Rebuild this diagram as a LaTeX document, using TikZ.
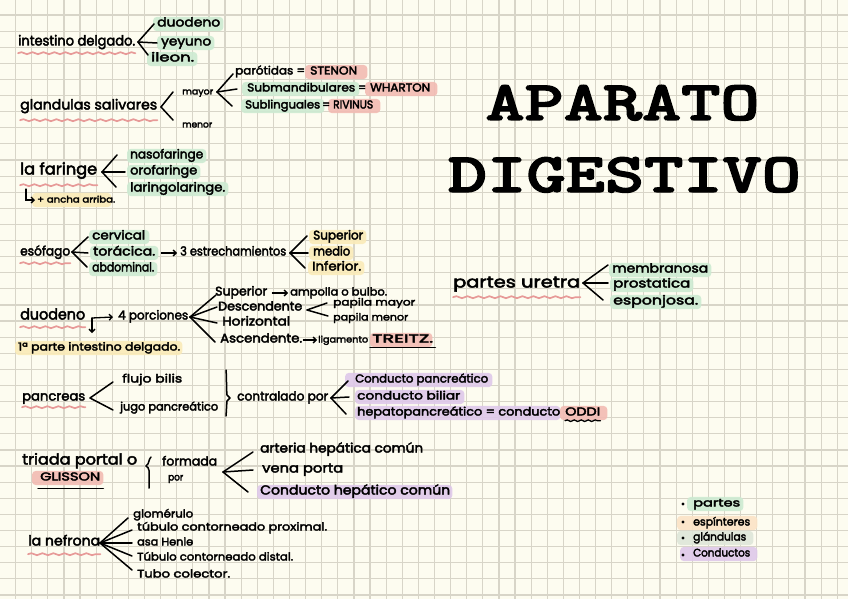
\documentclass[tikz,border=0pt]{standalone}
\usepackage{fontspec}
\usepackage{graphicx}
\newfontfamily\hand{Poppins}[FakeBold=3]
\newfontfamily\titlef{lmmonolt10-bold.otf}[FakeBold=2.2]
\usetikzlibrary{arrows.meta,decorations.pathmorphing,calc}
\definecolor{bgc}{HTML}{FDFCF0}
\definecolor{gridc}{HTML}{D8D5C8}
\definecolor{hlg}{HTML}{CDEBD2}
\definecolor{hly}{HTML}{FAEBB8}
\definecolor{hlr}{HTML}{F2BBB3}
\definecolor{hlp}{HTML}{DEC8EA}
\definecolor{hlo}{HTML}{FBE3C6}
\definecolor{hlgg}{HTML}{DFE6D9}
\definecolor{ulred}{HTML}{E79A98}
\pgfdeclarelayer{bg}
\pgfsetlayers{bg,main}
\newlength\fitlen
\newcommand\fit[2]{\settowidth\fitlen{#2}\pgfmathsetmacro\fitsc{#1/\fitlen}\scalebox{\fitsc}[1]{#2}}
\newcommand\hlt[4]{\fill[#2, rounded corners=4pt, opacity=0.9] ([xshift=-#3pt,yshift=-2pt]#1.south west) rectangle ([xshift=#4pt,yshift=2pt]#1.north east);}
\newcommand\wav[2]{\draw[wavy] ([yshift=-#2pt]#1.south west) -- ([yshift=-#2pt]#1.south east);}
\tikzset{
  t/.style={anchor=west, inner sep=0pt, text height=7.5pt, text depth=2.5pt, font=\hand\fontsize{12.5}{14}\selectfont},
  fs/.style={font=\hand\fontsize{#1}{#1}\selectfont},
  arm/.style={line width=1.5pt, line cap=round, line join=round},
  arr/.style={line width=1.3pt, line cap=round, -{Straight Barb[length=3pt,width=6pt]}},
  wavy/.style={draw=ulred, line width=1.7pt, line cap=round, decorate, decoration={snake, segment length=11pt, amplitude=1pt}},
  bwavy/.style={draw=black, line width=1.3pt, line cap=round, decorate, decoration={snake, segment length=7pt, amplitude=0.8pt}},
  title/.style={inner sep=0pt, anchor=base, font=\titlef\fontsize{56}{56}\selectfont},
  dot/.style={circle, fill=black, inner sep=1.2pt}
}
\begin{document}
\begin{tikzpicture}[x=1pt,y=-1pt]
\useasboundingbox (0,0) rectangle (848,599);
\begin{pgfonlayer}{bg}
\fill[bgc] (0,0) rectangle (848,599);
\foreach \i in {0,...,51} \draw[gridc, line width=1.2pt] ({15.6+16.11*\i},0) -- ++(0,599);
\foreach \j in {0,...,36} \draw[gridc, line width=1.2pt] (0,{15+16.11*\j}) -- ++(848,0);
\end{pgfonlayer}

% title
\node[title] (tA) at (622.5,120) {\fit{274}{APARATO}};
\node[title] (tD) at (624.5,192) {\fit{353}{DIGESTIVO}};

% intestino delgado
\node[t,fs=14] (id) at (18,43) {\fit{117}{intestino delgado.}};
\node[t] (id1) at (157,24) {\fit{63}{duodeno}};
\node[t] (id2) at (161,43) {\fit{50}{yeyuno}};
\node[t] (id3) at (151,59) {\fit{43}{ileon.}};
\coordinate (idA) at (138,42);
\draw[arm] (idA) -- ([xshift=-3pt]id1.west);
\draw[arm] (idA) -- ([xshift=-4pt]id2.west);
\draw[arm] (idA) -- ([xshift=-3pt,yshift=4pt]id3.west);

% glandulas salivares
\node[t,fs=14] (gs) at (20,107) {\fit{137}{glandulas salivares}};
\coordinate (gsA) at (161,107);
\node[t,fs=9] (gma) at (182,92) {\fit{31}{mayor}};
\node[t,fs=9] (gme) at (182,125) {\fit{30}{menor}};
\draw[arm] (gsA) -- ([xshift=-9pt]gma.west);
\draw[arm] (gsA) -- ([xshift=-9pt,yshift=5pt]gme.west);
\coordinate (gmaA) at (217,92);
\node[t,fs=11.5] (par) at (235,72) {\fit{70}{parótidas =}};
\node[t,fs=11.5] (sten) at (310,72) {\fit{47}{STENON}};
\node[t,fs=11.5] (sub) at (247,89) {\fit{108}{Submandibulares}};
\node[t,fs=11.5] (eq1) at (358,89) {\fit{8}{=}};
\node[t,fs=11.5] (whar) at (370,89) {\fit{60}{WHARTON}};
\node[t,fs=11.5] (subl) at (245,106) {\fit{75}{Sublinguales}};
\node[t,fs=11.5] (eq2) at (322,106) {\fit{8}{=}};
\node[t,fs=11.5] (riv) at (333,106) {\fit{40}{RIVINUS}};
\draw[arm] (gmaA) -- ([xshift=-2pt,yshift=-2pt]par.west);
\draw[arm] (gmaA) -- ([xshift=-10pt]sub.west);
\draw[arm] (gmaA) -- ([xshift=-13pt]subl.west);

% la faringe
\node[t,fs=16] (fa) at (20,172) {\fit{77}{la faringe}};
\coordinate (faA) at (102,172);
\node[t] (fa1) at (130,156) {\fit{73}{nasofaringe}};
\node[t] (fa2) at (130,172) {\fit{67}{orofaringe}};
\node[t] (fa3) at (130,189) {\fit{95}{laringolaringe.}};
\draw[arm] (faA) -- ([xshift=-13pt,yshift=1pt]fa1.west);
\draw[arm] (faA) -- ([xshift=-5pt]fa2.west);
\draw[arm] (faA) -- ([xshift=-14pt,yshift=2pt]fa3.west);
\node[t,fs=9] (fan) at (37,200) {\fit{78}{+ ancha arriba.}};
\coordinate (faL) at (26,189);
\draw[arr] (faL) |- ([xshift=-2pt]fan.west);

% esofago
\node[t,fs=13] (es) at (20,253) {\fit{50}{esófago}};
\coordinate (esA) at (72,252);
\node[t] (es1) at (92,237) {\fit{53}{cervical}};
\node[t] (es2) at (93,253) {\fit{62}{torácica.}};
\node[t] (es3) at (92,269) {\fit{62}{abdominal.}};
\draw[arm] (esA) -- ([xshift=-4pt]es1.west);
\draw[arm] (esA) -- ([xshift=-5pt]es2.west);
\draw[arm] (esA) -- ([xshift=-5pt,yshift=2pt]es3.west);
\node[t] (es4) at (180,253) {\fit{106}{3 estrechamientos}};
\draw[arr] ([xshift=6pt]es2.east) -- ([xshift=-3pt]es4.west);
\coordinate (esB) at (290,253);
\node[t] (es5) at (313,237) {\fit{50}{Superior}};
\node[t] (es6) at (313,253) {\fit{37}{medio}};
\node[t] (es7) at (312,268) {\fit{49}{Inferior.}};
\draw[arm] (esB) -- ([xshift=-6pt,yshift=1pt]es5.west);
\draw[arm] (esB) -- ([xshift=-5pt]es6.west);
\draw[arm] (esB) -- ([xshift=-7pt]es7.west);

% duodeno
\node[t,fs=15] (du) at (20,317) {\fit{65}{duodeno}};
\coordinate (duC) at (92,318);
\coordinate (duD) at (92,333);
\node[t] (du1) at (118,317) {\fit{70}{4 porciones}};
\node[t,fs=11] (du2) at (18,348) {\fit{162}{1ª parte intestino delgado.}};
\draw[arr] (duC) -- ([xshift=-5pt]du1.west);
\draw[arr] (duC) -- (duD);
\coordinate (duA) at (190,317);
\node[t] (du3) at (215,293) {\fit{52}{Superior}};
\node[t,fs=11] (du4) at (290,293) {\fit{97}{ampolla o bulbo.}};
\draw[arr] ([xshift=5pt]du3.east) -- ([xshift=-2pt]du4.west);
\node[t] (du5) at (218,308) {\fit{84}{Descendente}};
\coordinate (du5A) at (307,310);
\node[t,fs=10] (du6) at (333,303) {\fit{82}{papila mayor}};
\node[t,fs=10] (du7) at (333,318) {\fit{75}{papila menor}};
\draw[arm] (du5A) -- ([xshift=-6pt]du6.west);
\draw[arm] (du5A) -- ([xshift=-5pt,yshift=2pt]du7.west);
\node[t] (du8) at (222,323) {\fit{68}{Horizontal}};
\node[t] (du9) at (220,340) {\fit{82}{Ascendente.}};
\node[t,fs=9] (du10) at (318,340) {\fit{50}{ligamento}};
\node[t,fs=11.5] (du11) at (372,340) {\fit{61}{TREITZ.}};
\draw[arr] ([xshift=1pt]du9.east) -- ([xshift=-1pt]du10.west);
\draw[arm] (duA) -- ([xshift=1pt,yshift=-2pt]du3.west);
\draw[arm] (duA) -- ([xshift=-1pt,yshift=1pt]du5.west);
\draw[arm] (duA) -- ([xshift=-5pt]du8.west);
\draw[arm] (duA) -- ([xshift=-5pt,yshift=-2pt]du9.west);
\draw[line width=1.3pt, line cap=round] ([xshift=-2pt,yshift=-2.5pt]du11.south west) -- ([xshift=2pt,yshift=-2.5pt]du11.south east);

% pancreas
\node[t,fs=13] (pa) at (22,398) {\fit{63}{pancreas}};
\coordinate (paA) at (90,398);
\node[t,fs=11.5] (pa1) at (122,380) {\fit{60}{flujo bilis}};
\node[t,fs=11.5] (pa2) at (120,408) {\fit{98}{jugo pancreático}};
\draw[arm] (paA) -- ([xshift=-9pt,yshift=-2pt]pa1.west);
\draw[arm] (paA) -- ([xshift=-7pt,yshift=-2pt]pa2.west);
\draw[arm] (226,370) to[out=-85,in=95] (227,395) -- (230,398) -- (227,401) to[out=-95,in=85] (226,416);
\node[t] (pa3) at (237,398) {\fit{91}{contralado por}};
\coordinate (paB) at (331,398);
\node[t,fs=11.5] (pa4) at (355,380) {\fit{133}{Conducto pancreático}};
\node[t,fs=11.5] (pa5) at (357,397) {\fit{103}{conducto biliar}};
\node[t,fs=11.5] (pa6) at (357,413) {\fit{203}{hepatopancreático = conducto}};
\node[t,fs=11.5] (pa7) at (565,413) {\fit{35}{ODDI}};
\draw[arm] (paB) -- ([xshift=-7pt,yshift=-1pt]pa4.west);
\draw[arm] (paB) -- ([xshift=-8pt]pa5.west);
\draw[arm] (paB) -- ([xshift=-11pt,yshift=-1pt]pa6.west);
\draw[bwavy] ([yshift=-2.5pt]pa7.south west) -- ([yshift=-2.5pt]pa7.south east);

% triada portal
\node[t,fs=15] (tr) at (22,462) {\fit{115}{triada portal o}};
\node[t,fs=11.5] (tr1) at (40,478) {\fit{60}{GLISSON}};
\draw[line width=1.3pt, line cap=round] ([xshift=-2pt,yshift=-5pt]tr1.south west) -- ([xshift=3pt,yshift=-5pt]tr1.south east);
\draw[arm] (151,457) .. controls (148,460) and (150,463) .. (146,466) .. controls (150,468) and (149,472) .. (149,477) -- (149,488);
\node[t] (tr2) at (162,463) {\fit{55}{formada}};
\node[t,fs=10] (tr3) at (168,478) {\fit{15}{por}};
\coordinate (trA) at (223,472);
\node[t,fs=13] (tr4) at (260,450) {\fit{163}{arteria hepática común}};
\node[t,fs=13] (tr5) at (262,470) {\fit{81}{vena porta}};
\node[t,fs=13] (tr6) at (260,492) {\fit{190}{Conducto hepático común}};
\draw[arm] (trA) -- ([xshift=-7pt,yshift=-2pt]tr4.west);
\draw[arm] (trA) -- ([xshift=-9pt]tr5.west);
\draw[arm] (trA) -- ([xshift=-12pt]tr6.west);

% nefrona
\node[t,fs=14] (ne) at (28,543) {\fit{72}{la nefrona}};
\coordinate (neA) at (100,543);
\node[t,fs=11] (ne1) at (133,515) {\fit{60}{glomérulo}};
\node[t,fs=11] (ne2) at (137,528) {\fit{190}{túbulo contorneado proximal.}};
\node[t,fs=11] (ne3) at (137,543) {\fit{56}{asa Henle}};
\node[t,fs=11] (ne4) at (137,558) {\fit{156}{Túbulo contorneado distal.}};
\node[t,fs=11] (ne5) at (137,575) {\fit{93}{Tubo colector.}};
\draw[arm] (neA) -- ([xshift=-5pt,yshift=-3pt]ne1.west);
\draw[arm] (neA) -- ([xshift=-5pt,yshift=-2pt]ne2.west);
\draw[arm] (neA) -- ([xshift=-5pt]ne3.west);
\draw[arm] (neA) -- ([xshift=-5pt,yshift=2pt]ne4.west);
\draw[arm] (neA) -- ([xshift=-5pt,yshift=5pt]ne5.west);

% uretra
\node[t,fs=16] (ur) at (453,285) {\fit{127}{partes uretra}};
\coordinate (urA) at (583,283);
\node[t] (ur1) at (612,270) {\fit{96}{membranosa}};
\node[t] (ur2) at (613,285) {\fit{77}{prostatica}};
\node[t] (ur3) at (613,302) {\fit{85}{esponjosa.}};
\draw[arm] (urA) -- ([xshift=-4pt,yshift=5pt]ur1.west);
\draw[arm] (urA) -- ([xshift=-5pt,yshift=2pt]ur2.west);
\draw[arm] (urA) -- ([xshift=-10pt,yshift=2pt]ur3.west);

% legend
\node[dot] (b1) at (683,504) {};
\node[dot] (b2) at (683,522) {};
\node[dot] (b3) at (683,538) {};
\node[dot] (b4) at (683,555) {};
\node[t,fs=11] (lg1) at (693,504) {\fit{47}{partes}};
\node[t,fs=11] (lg2) at (693,523) {\fit{57}{espínteres}};
\node[t,fs=11] (lg3) at (693,538) {\fit{53}{glándulas}};
\node[t,fs=11] (lg4) at (693,554) {\fit{57}{Conductos}};

% underlines
\wav{id}{5}
\wav{gs}{8}
\wav{fa}{8}
\wav{es}{5}
\wav{du}{5}
\wav{pa}{4}
\wav{ne}{6}
\wav{ur}{7}

% highlights
\begin{pgfonlayer}{bg}
\hlt{id1}{hlg}{4}{3}
\hlt{id2}{hlg}{4}{3}
\hlt{id3}{hlg}{4}{3}
\hlt{sten}{hlr}{5}{10}
\hlt{whar}{hlr}{5}{7}
\hlt{riv}{hlr}{5}{7}
\hlt{sub}{hlg}{5}{4}
\hlt{subl}{hlg}{4}{4}
\hlt{fa1}{hlg}{3}{3}
\hlt{fa2}{hlg}{3}{3}
\hlt{fa3}{hlg}{3}{3}
\hlt{fan}{hly}{5}{-4}
\hlt{es1}{hlg}{3}{4}
\hlt{es2}{hlg}{3}{3}
\hlt{es3}{hlg}{3}{3}
\hlt{es5}{hly}{4}{3}
\hlt{es6}{hly}{4}{3}
\hlt{es7}{hly}{4}{3}
\hlt{du2}{hly}{3}{2}
\hlt{du11}{hlr}{2}{-1}
\hlt{pa4}{hlp}{10}{4}
\hlt{pa5}{hlp}{2}{4}
\hlt{pa6}{hlp}{2}{0}
\hlt{pa7}{hlr}{5}{7}
\hlt{tr1}{hlr}{8}{3}
\hlt{tr6}{hlp}{3}{2}
\hlt{ur1}{hlg}{3}{3}
\hlt{ur2}{hlg}{3}{3}
\hlt{ur3}{hlg}{3}{3}
\hlt{lg1}{hlg}{6}{3}
\hlt{lg2}{hlo}{16}{7}
\hlt{lg3}{hlgg}{16}{7}
\hlt{lg4}{hlp}{13}{7}
\end{pgfonlayer}
\end{tikzpicture}
\end{document}
